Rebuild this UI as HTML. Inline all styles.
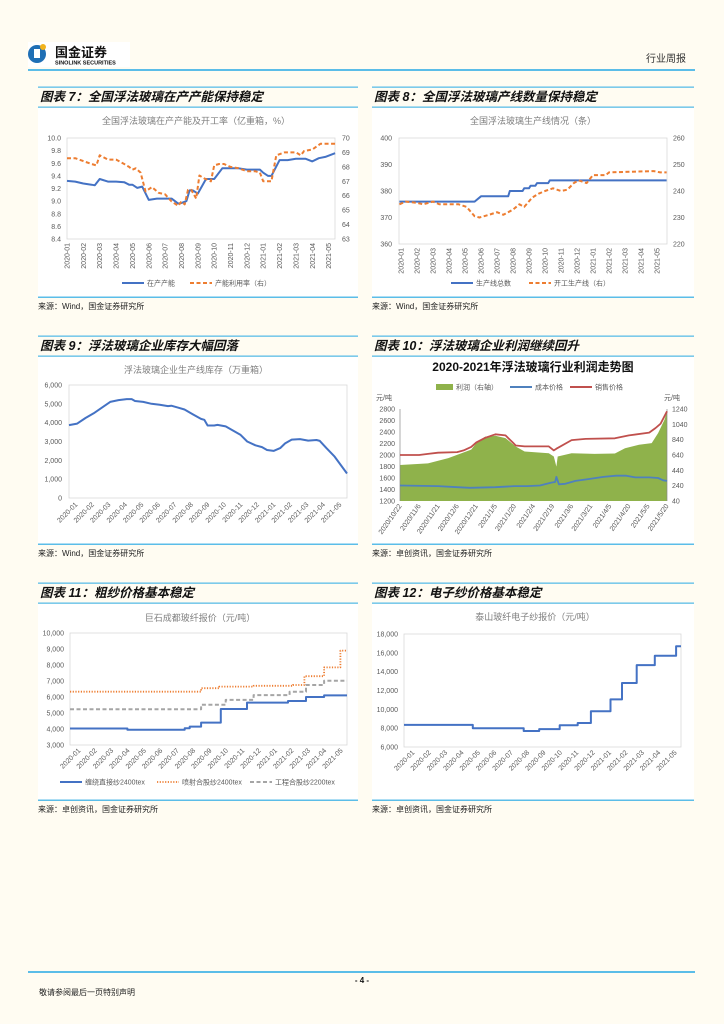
<!DOCTYPE html>
<html><head><meta charset="utf-8">
<style>
html,body{margin:0;padding:0;background:#fffcf2;}
svg{display:block;font-family:"Liberation Sans","Noto Sans CJK SC",sans-serif;}
.ax{font-size:7px;fill:#595959;}
.ct{font-size:9px;fill:#7f7f7f;}
.ttl{font-size:12.5px;font-weight:bold;font-style:italic;fill:#111;}
.src{font-size:8px;fill:#222;}
.lg{font-size:7px;fill:#595959;}
</style></head>
<body>
<svg id="page" width="724" height="1024" viewBox="0 0 724 1024">
<rect x="0" y="0" width="724" height="1024" fill="#fffcf2"/>
<g>
<rect x="28" y="42" width="102" height="25" fill="#ffffff"/>
<circle cx="37" cy="54" r="9" fill="#1f6fb5"/>
<rect x="34" y="49" width="6" height="9" fill="#ffffff"/>
<circle cx="43" cy="47" r="3" fill="#f2b31c"/>
<text x="55" y="57" font-size="13" font-weight="bold" fill="#111">国金证券</text>
<text x="55" y="64.5" font-size="5.5" font-weight="bold" fill="#111">SINOLINK SECURITIES</text>
<text x="686" y="62" font-size="10" fill="#333" text-anchor="end">行业周报</text>
<rect x="28" y="69" width="667" height="2" fill="#5bbde8"/>
</g>
<rect x="28" y="971" width="667" height="2" fill="#5bbde8"/>
<text x="362" y="983" font-size="8" font-weight="bold" text-anchor="middle" fill="#111">- 4 -</text>
<text x="39" y="995" font-size="8" fill="#222">敬请参阅最后一页特别声明</text>
<g id="charts"></g>
</svg>
<script>
// ===== Chart 7 data =====
const c7Labels=["2020-01","2020-02","2020-03","2020-04","2020-05","2020-06","2020-07","2020-08","2020-09","2020-10","2020-11","2020-12","2021-01","2021-02","2021-03","2021-04","2021-05"];
const c7LeftTicks=["8.4","8.6","8.8","9.0","9.2","9.4","9.6","9.8","10.0"];
const c7RightTicks=["63","64","65","66","67","68","69","70"];
const c7CapX=[0,0.5,1,1.5,1.7,2,2.5,3,3.5,3.8,4,4.3,4.6,5,5.5,6,6.4,6.8,7,7.3,7.5,7.7,8,8.5,8.8,9,9.5,10,10.5,11,11.5,11.8,12,12.3,12.5,13,13.5,14,14.3,14.6,15,15.4,15.8,16.4];
const c7CapV=[9.32,9.31,9.28,9.26,9.25,9.35,9.31,9.31,9.30,9.26,9.26,9.21,9.23,9.02,9.04,9.04,9.04,8.96,8.97,9.00,9.17,9.17,9.12,9.35,9.35,9.35,9.52,9.52,9.52,9.50,9.50,9.50,9.45,9.40,9.40,9.65,9.65,9.67,9.67,9.67,9.63,9.68,9.70,9.76];
const c7RateX=[0,0.5,1,1.5,1.8,2,2.5,3,3.5,3.8,4,4.2,4.5,4.8,5.2,5.6,6,6.4,6.8,7,7.2,7.4,7.6,7.9,8.1,8.4,8.8,9.0,9.3,9.6,10,10.5,11,11.5,11.8,12,12.3,12.5,12.8,13.3,13.8,14,14.3,14.5,15,15.5,16.4];
const c7RateV=[68.6,68.6,68.4,68.2,68.1,68.8,68.5,68.5,68.2,68.0,67.8,67.9,67.6,66.3,66.6,66.2,66.1,65.6,65.3,65.6,65.4,66.4,66.4,65.8,67.4,67.2,67.0,68.1,68.2,68.2,68.0,67.9,67.7,67.7,67.6,67.0,67.0,67.0,68.8,69.0,69.0,69.0,68.8,69.1,69.2,69.6,69.6];
// ===== Chart 8 data =====
const c8Labels=c7Labels;
const c8LeftTicks=["360","370","380","390","400"];
const c8RightTicks=["220","230","240","250","260"];
const c8TotX=[-0.1,4.6,5.0,6.7,6.8,7.6,7.7,8.0,8.1,8.4,8.5,9.2,9.3,16.6];
const c8TotV=[376,376,378,378,380,380,381,381,382,382,383,383,384,384];
const c8RunX=[-0.1,0.3,1,1.4,2,2.4,3,3.6,4.1,4.6,4.9,5.5,6,6.4,7,7.4,7.7,8.2,8.6,9,9.5,10,10.4,10.8,11.1,11.6,12,12.8,13,15.8,16.2,16.6];
const c8RunV=[235,236,235.5,235,236,235,235,235,234,230.5,230,231,232,231,233,235,234,237.5,239,240,241,240,240.5,243,244,243,246,246,247,247.5,247,247,248,248];
// ===== Chart 9 data =====
const c9Labels=c7Labels;
const c9Ticks=["0","1,000","2,000","3,000","4,000","5,000","6,000"];
const c9X=[0,0.5,1,1.5,2,2.5,3,3.5,3.8,4,4.5,5,5.5,6,6.2,6.6,7,7.5,8,8.2,8.4,8.8,9,9.5,10,10.4,10.8,11.3,11.7,12,12.4,12.8,13.1,13.5,14,14.5,15,15.2,15.6,16.1,16.85];
const c9V=[3870,3950,4250,4500,4800,5100,5200,5250,5250,5150,5100,5000,4950,4880,4900,4800,4700,4450,4200,4150,3850,3850,3880,3800,3550,3350,3000,2800,2700,2550,2500,2650,2900,3100,3130,3050,3080,3030,2650,2200,1300];
// ===== Chart 10 data =====
const c10Labels=["2020/10/22","2020/11/6","2020/11/21","2020/12/6","2020/12/21","2021/1/5","2021/1/20","2021/2/4","2021/2/19","2021/3/6","2021/3/21","2021/4/5","2021/4/20","2021/5/5","2021/5/20"];
const c10LeftTicks=["1200","1400","1600","1800","2000","2200","2400","2600","2800"];
const c10RightTicks=["40","240","440","640","840","1040","1240"];
const c10SaleX=[0,15,22,30,45,50,56,60,67,75,83,89,91,98,117,121,123,135,146,169,180,196,201,205,210];
const c10SaleV=[2000,2000,2020,2040,2050,2080,2140,2220,2300,2360,2340,2210,2165,2150,2150,2080,2110,2260,2280,2290,2340,2390,2470,2545,2760];
const c10CostX=[0,30,45,55,75,90,100,110,119,122,123,125,130,138,148,160,170,178,185,196,203,207,210];
const c10CostV=[1470,1460,1440,1430,1440,1460,1460,1470,1520,1530,1620,1490,1500,1550,1580,1620,1640,1640,1610,1610,1600,1560,1550];
const c10ProfX=[0,22,38,56,60,67,75,83,91,98,117,121,123,124,135,153,169,177,188,198,203,208,210];
const c10ProfV=[510,530,600,710,795,880,890,860,751,686,664,620,489,620,664,655,660,729,773,795,926,1100,1210];
// ===== Chart 11 data (step series: value holds from x[i] to x[i+1]) =====
const c11Labels=c7Labels;
const c11Ticks=["3,000","4,000","5,000","6,000","7,000","8,000","9,000","10,000"];
const c11DirX=[0,3.5,7.0,7.3,8.0,9.2,10.8,13.3,14.4,15.5,16.9];
const c11DirV=[4030,3950,4050,4150,4400,5250,5650,5750,6000,6100,6100];
const c11SprX=[0,8.0,9.1,11.2,13.6,14.3,15.5,16.5,16.9];
const c11SprV=[6330,6550,6650,6700,6750,7300,7850,8900,8900];
const c11EngX=[0,8.0,9.5,11.2,13.4,14.4,15.5,16.9];
const c11EngV=[5230,5520,5820,6120,6330,6750,7020,7020];
// ===== Chart 12 data =====
const c12Labels=c7Labels;
const c12Ticks=["6,000","8,000","10,000","12,000","14,000","16,000","18,000"];
const c12X=[0,4.2,7.3,8.25,9.5,10.6,11.4,12.6,13.3,14.2,15.3,16.6,16.9];
const c12V=[8350,8000,7700,7900,8300,8550,9800,11050,12800,14700,15700,16700,16700];

const NS="http://www.w3.org/2000/svg";
const root=document.getElementById('charts');
function el(tag,attrs,parent,txt){const e=document.createElementNS(NS,tag);for(const k in attrs)e.setAttribute(k,attrs[k]);if(txt!==undefined)e.textContent=txt;(parent||root).appendChild(e);return e;}
function lin(p0,p1,d0,d1){return v=>p0+(v-d0)/(d1-d0)*(p1-p0);}
function pathD(xs,ys,sx,sy){return xs.map((x,i)=>(i?'L':'M')+sx(x).toFixed(1)+','+sy(ys[i]).toFixed(1)).join('');}
function stepD(xs,ys,sx,sy){let d='';for(let i=0;i<xs.length;i++){const X=sx(xs[i]).toFixed(1),Y=sy(ys[i]).toFixed(1);if(i===0)d+='M'+X+','+Y;else{d+='L'+X+','+sy(ys[i-1]).toFixed(1)+'L'+X+','+Y;}}return d;}

function panel(g,x,w,topY,title,srcY,src){
  const a=el('rect',{x:x,y:topY-0.5,width:w,height:1.3,fill:'#5bbde8'},g);
  
  const t=el('text',{x:x+2,y:topY+14,class:'ttl'},g,title);
  
  const b=el('rect',{x:x,y:topY+19.5,width:w,height:1.3,fill:'#5bbde8'},g);
  
  const wb=el('rect',{x:x,y:topY+21,width:w,height:srcY-topY-21,fill:'#ffffff'},g);
  
  const c=el('rect',{x:x,y:srcY-0.5,width:w,height:1.5,fill:'#5bbde8'},g);
  
  const s=el('text',{x:x,y:srcY+12,class:'src'},g,src);
  
}
function plotBox(g,x0,y0,x1,y1){const r=el('rect',{x:x0,y:y0,width:x1-x0,height:y1-y0,fill:'none',stroke:'#d9d9d9','stroke-width':0.8},g);}
function yTicks(g,ticks,sy,x,anchor){ticks.forEach(t=>{const v=parseFloat(t.replace(/,/g,''));const e=el('text',{x:x,y:sy(v)+2.5,class:'ax','text-anchor':anchor},g,t);});}
function xTicksRot(g,labels,sx,y,angle,idx){labels.forEach((t,i)=>{const X=sx(idx?idx[i]:i);const e=el('text',{x:X,y:y,class:'ax','text-anchor':'end',transform:'rotate('+angle+' '+X+' '+y+')'},g,t);});}
function ctitle(g,x,y,t){const e=el('text',{x:x,y:y,class:'ct','text-anchor':'middle'},g,t);}
function legLine(g,x,y,color,dash,w,label){const l=el('line',{x1:x,y1:y,x2:x+22,y2:y,stroke:color,'stroke-width':w,'stroke-dasharray':dash},g);const t=el('text',{x:x+25,y:y+2.5,class:'lg'},g,label);}
function series(g,d,color,w,dash,name){const p=el('path',{d:d,fill:'none',stroke:color,'stroke-width':w,'stroke-dasharray':dash||'none','stroke-linejoin':'round'},g);return p;}
const BLUE='#4472c4',ORANGE='#ed7d31',GRAY='#a5a5a5';

// ---- Chart 7 ----
(function(){
const g=el('g',{});
panel(g,38,320,87,'图表 7：全国浮法玻璃在产产能保持稳定',297,'来源：Wind，国金证券研究所');
const x0=67,x1=335,y0=138,y1=239;
const sx=lin(x0,x0+16.4*16.35,0,16.4),sy=lin(y1,y0,8.4,10.0),sr=lin(y1,y0,63,70);
ctitle(g,196,124,'全国浮法玻璃在产产能及开工率（亿重箱，%）');
plotBox(g,x0,y0,x1,y1);
yTicks(g,c7LeftTicks,sy,61,'end');yTicks(g,c7RightTicks,sr,342,'start');
xTicksRot(g,c7Labels,v=>sx(v)+2.5,243,-90);
series(g,pathD(c7CapX,c7CapV,sx,sy),BLUE,2,null,'series-capacity');
series(g,pathD(c7RateX,c7RateV,sx,sr),ORANGE,2,'4 2.5','series-utilization');
legLine(g,122,283,BLUE,'none',2,'在产产能');legLine(g,190,283,ORANGE,'4 2.5',2,'产能利用率（右）');
})();
// ---- Chart 8 ----
(function(){
const g=el('g',{});
panel(g,372,322,87,'图表 8：全国浮法玻璃产线数量保持稳定',297,'来源：Wind，国金证券研究所');
const x0=399,x1=667,y0=138,y1=244;
const sx=lin(401,657,0,16),sy=lin(y1,y0,360,400),sr=lin(y1,y0,220,260);
ctitle(g,533,124,'全国浮法玻璃生产线情况（条）');
plotBox(g,x0,y0,x1,y1);
yTicks(g,c8LeftTicks,sy,392,'end');yTicks(g,c8RightTicks,sr,673,'start');
xTicksRot(g,c8Labels,v=>sx(v)+2.5,248,-90);
series(g,pathD(c8TotX,c8TotV,sx,sy),BLUE,2,null,'series-total-lines');
series(g,pathD(c8RunX,c8RunV,sx,sr),ORANGE,2,'4 2.5','series-running-lines');
legLine(g,451,283,BLUE,'none',2,'生产线总数');legLine(g,529,283,ORANGE,'4 2.5',2,'开工生产线（右）');
})();
// ---- Chart 9 ----
(function(){
const g=el('g',{});
panel(g,38,320,336,'图表 9：浮法玻璃企业库存大幅回落',544,'来源：Wind，国金证券研究所');
const x0=69,x1=347,y0=385,y1=498;
const sx=lin(x0,x1,0,16.85),sy=lin(y1,y0,0,6000);
ctitle(g,196,373,'浮法玻璃企业生产线库存（万重箱）');
plotBox(g,x0,y0,x1,y1);
yTicks(g,c9Ticks,sy,62,'end');
xTicksRot(g,c9Labels,v=>sx(v)+9,505,-45);
series(g,pathD(c9X,c9V,sx,sy),BLUE,2,null,'series-inventory');
})();
// ---- Chart 10 ----
(function(){
const g=el('g',{});
panel(g,372,322,336,'图表 10：浮法玻璃企业利润继续回升',544,'来源：卓创资讯，国金证券研究所');
const x0=400,x1=667,y0=409,y1=501;
const sx=lin(x0,x1,0,210),sy=lin(y1,y0,1200,2800),sr=lin(y1,y0,40,1240);
const t=el('text',{x:533,y:371,'font-size':12,'font-weight':'bold','text-anchor':'middle',fill:'#111'},g,'2020-2021年浮法玻璃行业利润走势图');

let d=pathD(c10ProfX,c10ProfV,sx,sr)+'L'+sx(c10ProfX[c10ProfX.length-1])+','+y1+'L'+sx(c10ProfX[0])+','+y1+'Z';
const a=el('path',{d:d,fill:'#8fb24b'},g);
const ax1=el('line',{x1:x0,y1:y0,x2:x0,y2:y1,stroke:'#888','stroke-width':0.7},g);
const ax2=el('line',{x1:x1,y1:y0,x2:x1,y2:y1,stroke:'#888','stroke-width':0.7},g);
yTicks(g,c10LeftTicks,sy,395,'end');yTicks(g,c10RightTicks,sr,672,'start');
c10Labels.forEach((l,i)=>{const X=sx(i*15)+2,Y=506;const e=el('text',{x:X,y:Y,class:'ax','text-anchor':'end',transform:'rotate(-55 '+X+' '+Y+')'},g,l);});
series(g,pathD(c10CostX,c10CostV,sx,sy),'#4f81bd',1.8,null,'series-cost');
series(g,pathD(c10SaleX,c10SaleV,sx,sy),'#c0504d',1.8,null,'series-sale-price');
const u1=el('text',{x:376,y:400,class:'ax'},g,'元/吨');
const u2=el('text',{x:664,y:400,class:'ax'},g,'元/吨');
const lr=el('rect',{x:436,y:384,width:17,height:6,fill:'#8fb24b'},g);
const lt=el('text',{x:456,y:389.5,class:'lg'},g,'利润（右轴）');
legLine(g,510,387,'#4f81bd','none',2,'成本价格');legLine(g,570,387,'#c0504d','none',2,'销售价格');
})();
// ---- Chart 11 ----
(function(){
const g=el('g',{});
panel(g,38,320,583,'图表 11：粗纱价格基本稳定',800,'来源：卓创资讯，国金证券研究所');
const x0=70,x1=347,y0=633,y1=745;
const sx=lin(x0,x1,0,16.9),sy=lin(y1,y0,3000,10000);
ctitle(g,200,621,'巨石成都玻纤报价（元/吨）');
plotBox(g,x0,y0,x1,y1);
yTicks(g,c11Ticks,sy,64,'end');
xTicksRot(g,c11Labels,v=>sx(v)+11,751,-45);
series(g,stepD(c11EngX,c11EngV,sx,sy),GRAY,2,'4 2.5','series-engineering-yarn');
series(g,stepD(c11SprX,c11SprV,sx,sy),ORANGE,1.8,'1.2 1.5','series-spray-yarn');
series(g,stepD(c11DirX,c11DirV,sx,sy),BLUE,2,null,'series-direct-roving');
legLine(g,60,782,BLUE,'none',2,'缠绕直接纱2400tex');legLine(g,157,782,ORANGE,'1.2 1.5',1.8,'喷射合股纱2400tex');legLine(g,250,782,GRAY,'4 2.5',2,'工程合股纱2200tex');
})();
// ---- Chart 12 ----
(function(){
const g=el('g',{});
panel(g,372,322,583,'图表 12：电子纱价格基本稳定',800,'来源：卓创资讯，国金证券研究所');
const x0=404,x1=681,y0=634,y1=747;
const sx=lin(x0,x1,0,16.9),sy=lin(y1,y0,6000,18000);
ctitle(g,535,620,'泰山玻纤电子纱报价（元/吨）');
plotBox(g,x0,y0,x1,y1);
yTicks(g,c12Ticks,sy,398,'end');
xTicksRot(g,c12Labels,v=>sx(v)+11,753,-45);
series(g,stepD(c12X,c12V,sx,sy),BLUE,2,null,'series-e-yarn-price');
})();
</script>
</body></html>
